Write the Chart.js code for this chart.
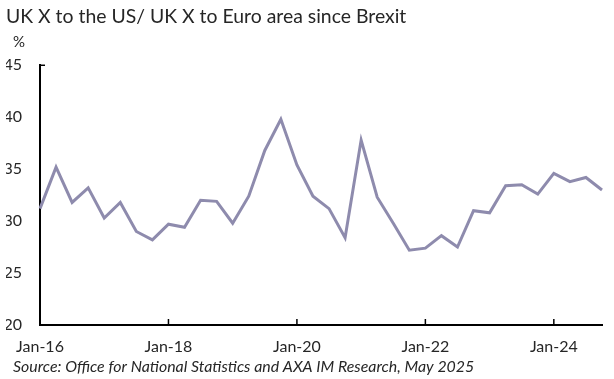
<!DOCTYPE html>
<html>
<head>
<meta charset="utf-8">
<script src="https://cdn.jsdelivr.net/npm/chart.js@4/dist/chart.umd.min.js"></script>
<style>
  html, body { margin: 0; padding: 0; background: #fff; }
  #wrap { width: 614px; height: 379px; }
</style>
</head>
<body>
<div id="wrap"><canvas id="c" width="614" height="379"></canvas></div>
<script>
// Quarterly observations, Jan-16 (Q1 2016) to Oct-24 (Q4 2024)
const categories = [
  'Jan-16','Apr-16','Jul-16','Oct-16',
  'Jan-17','Apr-17','Jul-17','Oct-17',
  'Jan-18','Apr-18','Jul-18','Oct-18',
  'Jan-19','Apr-19','Jul-19','Oct-19',
  'Jan-20','Apr-20','Jul-20','Oct-20',
  'Jan-21','Apr-21','Jul-21','Oct-21',
  'Jan-22','Apr-22','Jul-22','Oct-22',
  'Jan-23','Apr-23','Jul-23','Oct-23',
  'Jan-24','Apr-24','Jul-24','Oct-24'
];
const ratioValues = [
  31.2, 35.2, 31.8, 33.2,
  30.3, 31.8, 29.0, 28.2,
  29.7, 29.4, 32.0, 31.9,
  29.8, 32.4, 36.8, 39.8,
  35.4, 32.4, 31.2, 28.4,
  37.8, 32.3, 29.8, 27.2,
  27.4, 28.6, 27.5, 31.0,
  30.8, 33.4, 33.5, 32.6,
  34.6, 33.8, 34.2, 33.0
];
const xTickLabels = ['Jan-16','Jan-18','Jan-20','Jan-22','Jan-24'];
const yTicks = [20, 25, 30, 35, 40, 45];

const titleText = 'UK X to the US/ UK X to Euro area since Brexit';
const unitText = '%';
const sourceText = 'Source: Office for National Statistics and AXA IM Research, May 2025';

const FONT = 'Lato, "Open Sans", sans-serif';
const TEXT = '#262626';

const extras = {
  id: 'extras',
  afterDraw(chart) {
    const ctx = chart.ctx;
    const x = chart.scales.x, y = chart.scales.y;
    const area = chart.chartArea;
    ctx.save();
    // inward tick marks on x axis
    ctx.strokeStyle = '#000';
    ctx.lineWidth = 1.5;
    xTickLabels.forEach(lbl => {
      const px = x.getPixelForValue(categories.indexOf(lbl));
      ctx.beginPath();
      ctx.moveTo(px, area.bottom);
      ctx.lineTo(px, area.bottom - 6);
      ctx.stroke();
    });
    // small stub at top of y axis
    const topPx = y.getPixelForValue(yTicks[yTicks.length - 1]);
    ctx.beginPath();
    ctx.moveTo(area.left, topPx);
    ctx.lineTo(area.left + 5, topPx);
    ctx.stroke();
    // unit label
    ctx.fillStyle = TEXT;
    ctx.font = '15px ' + FONT;
    ctx.textBaseline = 'middle';
    ctx.textAlign = 'left';
    ctx.fillText(unitText, 13, 42);
    // source
    ctx.font = 'italic 15.9px ' + FONT;
    ctx.fillText(sourceText, 13, 367);
    ctx.restore();
  }
};

new Chart(document.getElementById('c'), {
  type: 'line',
  data: {
    labels: categories,
    datasets: [{
      data: ratioValues,
      borderColor: '#8E8BAD',
      borderWidth: 3,
      pointRadius: 0,
      tension: 0,
      fill: false
    }]
  },
  options: {
    responsive: false,
    animation: false,
    devicePixelRatio: 1,
    layout: { padding: { left: 6, right: 7, top: 0, bottom: 0 } },
    plugins: {
      legend: { display: false },
      tooltip: { enabled: false },
      title: {
        display: true,
        text: titleText,
        align: 'start',
        color: TEXT,
        font: { family: FONT, size: 19.4, weight: 'normal' },
        padding: { top: 5, bottom: 37 }
      }
    },
    scales: {
      x: {
        type: 'category',
        offset: false,
        grid: { display: false, drawTicks: false },
        border: { display: true, color: '#000', width: 2 },
        ticks: {
          autoSkip: false,
          maxRotation: 0,
          padding: 12,
          color: TEXT,
          font: { family: FONT, size: 16 },
          callback: function(v, i) {
            const l = categories[i];
            return xTickLabels.includes(l) ? l : '';
          }
        },
        afterFit(s) { s.height = 379 - 325; }
      },
      y: {
        min: 20, max: 45,
        afterBuildTicks(s) { s.ticks = yTicks.map(v => ({ value: v })); },
        grid: { display: false, drawTicks: false },
        border: { display: true, color: '#000', width: 2 },
        ticks: {
          padding: 18,
          color: TEXT,
          font: { family: FONT, size: 16 }
        },
        afterFit(s) { s.width = 34; }
      }
    }
  },
  plugins: [extras]
});
</script>
</body>
</html>
